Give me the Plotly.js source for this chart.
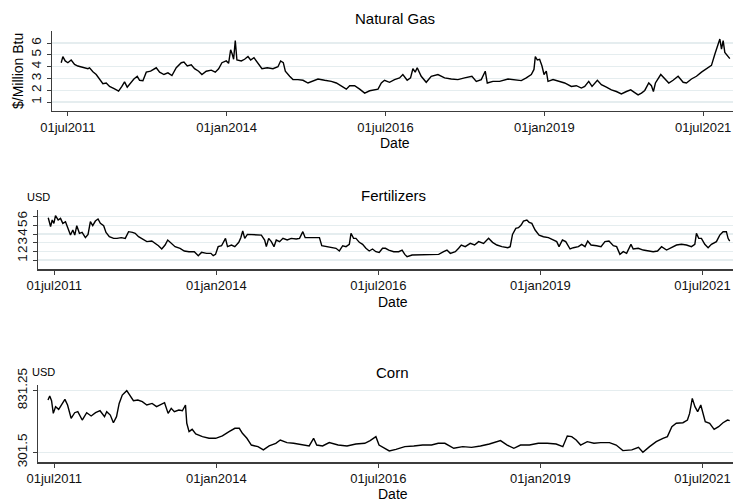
<!DOCTYPE html>
<html>
<head>
<meta charset="utf-8">
<script src="https://cdn.plot.ly/plotly-3.0.1.min.js"></script>
<style>html,body{margin:0;padding:0;background:#fff;}#chart{width:733px;height:502px;}</style>
</head>
<body>
<div id="chart"></div>
<script>
// ---- Data (x = decimal year) ----
var gasYears = [2011.395,2011.421,2011.458,2011.500,2011.552,2011.605,2011.657,2011.736,2011.815,2011.841,2011.894,2011.946,2011.999,2012.051,2012.104,2012.156,2012.235,2012.298,2012.350,2012.392,2012.434,2012.487,2012.539,2012.592,2012.629,2012.681,2012.734,2012.802,2012.891,2012.944,2013.012,2013.075,2013.138,2013.206,2013.285,2013.327,2013.379,2013.442,2013.494,2013.558,2013.610,2013.678,2013.757,2013.820,2013.873,2013.925,2013.993,2014.030,2014.062,2014.088,2014.109,2014.135,2014.161,2014.230,2014.282,2014.335,2014.377,2014.429,2014.492,2014.555,2014.639,2014.728,2014.807,2014.849,2014.891,2014.923,2014.991,2015.043,2015.122,2015.201,2015.280,2015.358,2015.437,2015.542,2015.647,2015.726,2015.804,2015.883,2015.936,2016.014,2016.093,2016.172,2016.251,2016.382,2016.434,
2016.484,2016.563,2016.642,2016.721,2016.773,2016.841,2016.894,2016.931,2016.967,2016.999,2017.062,2017.141,2017.220,2017.325,2017.430,2017.535,2017.640,2017.745,2017.860,2017.929,2018.007,2018.070,2018.102,2018.191,2018.296,2018.428,2018.559,2018.638,2018.716,2018.795,2018.837,2018.858,2018.890,2018.926,2018.963,2018.995,2019.031,2019.058,2019.137,2019.215,2019.320,2019.425,2019.504,2019.583,2019.636,2019.699,2019.751,2019.835,2019.898,2019.977,2020.056,2020.134,2020.213,2020.292,2020.360,2020.423,2020.476,2020.529,2020.581,2020.644,2020.686,2020.717,2020.749,2020.833,2020.896,2020.959,2021.027,2021.106,2021.185,2021.237,2021.316,2021.395,2021.474,2021.552,2021.631,2021.684,2021.710,2021.763,2021.789,2021.815,2021.841,2021.883,2021.920];
var gasValues = [4.33,4.85,4.48,4.33,4.56,4.19,4.05,3.96,3.82,3.90,3.56,3.33,2.95,2.55,2.61,2.32,2.12,1.92,2.32,2.70,2.26,2.61,2.95,3.18,2.84,2.81,3.53,3.61,3.90,3.53,3.33,3.47,3.24,3.90,4.33,4.39,4.05,4.16,3.82,3.61,3.33,3.61,3.70,3.53,3.82,4.33,4.48,4.28,5.43,5.05,4.62,6.20,4.56,4.48,4.62,4.85,4.56,4.76,4.33,3.82,3.90,3.82,3.99,4.48,4.33,3.61,3.18,2.90,2.90,2.84,2.61,2.75,2.95,2.84,2.75,2.61,2.32,2.09,2.38,2.38,2.09,1.75,1.95,2.09,2.61,
2.84,2.67,2.90,3.04,3.33,2.84,3.04,3.82,3.53,3.90,3.18,2.67,3.18,3.33,3.04,2.95,2.90,3.04,3.18,2.75,2.90,3.61,2.61,2.75,2.75,2.95,2.90,2.81,3.04,3.33,3.76,4.85,4.56,4.62,4.05,3.33,3.61,2.75,2.90,2.75,2.61,2.32,2.38,2.18,2.32,2.75,2.32,2.84,2.47,2.26,2.03,1.89,1.69,1.89,2.03,1.80,1.60,1.75,1.98,2.61,2.38,1.89,2.61,3.33,2.95,2.61,2.84,3.18,2.67,2.61,2.95,3.18,3.53,3.82,4.10,5.05,5.48,6.34,5.48,6.20,5.20,4.97,4.68];

var fertYears = [2011.408,2011.444,2011.469,2011.495,2011.520,2011.561,2011.597,2011.633,2011.674,2011.705,2011.751,2011.787,2011.817,2011.848,2011.889,2011.930,2011.981,2012.022,2012.058,2012.094,2012.135,2012.176,2012.212,2012.263,2012.299,2012.350,2012.417,2012.468,2012.534,2012.596,2012.647,2012.708,2012.749,2012.801,2012.852,2012.929,2013.005,2013.057,2013.108,2013.159,2013.210,2013.251,2013.302,2013.364,2013.441,2013.507,2013.579,2013.661,2013.722,2013.773,2013.850,2013.917,2013.953,2013.988,2014.029,2014.081,2014.142,2014.173,2014.234,2014.286,2014.347,2014.378,2014.408,2014.439,2014.480,2014.541,2014.618,2014.695,2014.746,2014.772,2014.808,2014.849,2014.890,2014.925,2014.977,2015.028,2015.094,2015.156,2015.233,2015.284,2015.335,2015.371,2015.438,2015.514,2015.591,2015.627,2015.693,2015.770,2015.847,2015.898,2015.950,2016.001,2016.052,2016.078,2016.118,2016.154,2016.206,2016.257,2016.308,2016.359,2016.410,2016.462,2016.513,2016.564,
2016.609,2016.660,2016.737,2016.814,2016.866,2016.907,2016.943,2017.020,2017.122,2017.225,2017.327,2017.430,2017.507,2017.558,2017.610,2017.687,2017.738,2017.779,2017.840,2017.917,2017.984,2018.046,2018.123,2018.200,2018.261,2018.328,2018.405,2018.497,2018.533,2018.569,2018.620,2018.661,2018.702,2018.738,2018.790,2018.826,2018.867,2018.918,2018.979,2019.046,2019.123,2019.200,2019.251,2019.287,2019.339,2019.390,2019.457,2019.508,2019.585,2019.636,2019.688,2019.729,2019.780,2019.867,2019.934,2019.995,2020.057,2020.124,2020.175,2020.226,2020.278,2020.329,2020.396,2020.431,2020.508,2020.585,2020.662,2020.739,2020.806,2020.868,2020.945,2021.022,2021.099,2021.175,2021.252,2021.329,2021.381,2021.406,2021.442,2021.483,2021.535,2021.586,2021.637,2021.714,2021.766,2021.817,2021.868,2021.894,2021.919];
var fertValues = [5.88,4.85,5.62,5.23,6.12,5.62,5.81,5.23,5.42,4.85,3.88,4.46,3.88,4.96,4.08,4.19,3.58,3.96,5.42,4.96,5.50,5.73,5.23,4.96,4.19,3.69,3.50,3.50,3.58,3.50,4.27,4.19,4.08,3.69,3.50,3.12,3.19,2.92,2.65,2.27,2.73,3.31,2.92,2.54,2.35,2.04,1.96,1.96,1.50,1.88,1.77,1.77,1.50,1.65,2.54,2.65,3.50,2.54,2.73,2.54,3.04,3.58,4.35,3.50,3.96,3.96,3.96,3.88,3.31,2.54,3.50,3.12,2.54,3.31,3.12,3.50,3.31,3.50,3.42,3.50,4.27,3.58,3.58,3.58,3.58,2.65,2.54,2.42,2.35,2.04,2.65,2.54,2.81,4.08,3.50,3.50,3.04,2.81,2.35,2.04,2.27,1.96,1.88,2.35,
2.35,2.15,1.96,1.96,2.15,1.65,1.38,1.58,1.58,1.58,1.58,1.65,1.96,2.15,1.77,1.96,2.35,2.73,2.54,2.92,2.73,3.12,2.92,3.50,3.04,2.73,2.54,2.42,2.54,3.96,4.65,4.73,5.04,5.50,5.62,5.35,5.23,4.46,3.88,3.69,3.58,3.31,3.12,2.54,3.31,3.12,2.27,2.42,2.54,2.81,2.54,3.19,2.73,2.65,2.54,3.12,3.19,2.65,2.54,1.65,1.96,1.77,2.81,2.27,2.35,2.15,2.04,1.96,2.04,2.54,2.15,2.42,2.73,2.81,2.73,2.54,2.81,4.08,3.50,3.50,2.81,2.42,2.81,3.12,3.88,4.27,4.27,3.50,3.19];

var cornYears = [2011.404,2011.431,2011.459,2011.486,2011.521,2011.569,2011.610,2011.665,2011.706,2011.761,2011.816,2011.864,2011.932,2012.001,2012.070,2012.138,2012.207,2012.276,2012.310,2012.365,2012.413,2012.461,2012.502,2012.550,2012.619,2012.667,2012.722,2012.790,2012.859,2012.928,2013.010,2013.079,2013.147,2013.202,2013.257,2013.305,2013.353,2013.422,2013.477,2013.525,2013.545,2013.580,2013.628,2013.683,2013.786,2013.888,2013.991,2014.094,2014.197,2014.287,2014.355,2014.403,2014.472,2014.541,2014.643,2014.726,2014.815,2014.918,2014.987,2015.090,2015.193,2015.330,2015.433,2015.501,2015.549,2015.639,2015.742,2015.879,2016.016,2016.153,2016.291,2016.373,2016.462,2016.510,2016.600,2016.668,2016.771,2016.908,2017.046,2017.183,2017.320,2017.423,2017.526,2017.663,2017.801,2017.938,2018.075,2018.212,2018.384,2018.487,2018.590,2018.693,2018.830,2018.967,2019.105,2019.242,2019.345,2019.414,2019.482,2019.551,2019.620,2019.722,2019.825,2019.928,2020.065,2020.168,2020.271,2020.409,2020.512,2020.580,2020.683,2020.786,2020.889,2020.958,2021.027,2021.095,2021.198,2021.267,2021.301,2021.342,2021.383,2021.425,2021.473,2021.507,2021.542,2021.610,2021.679,2021.748,2021.816,2021.885,2021.919];
var cornValues = [751,785,745,636,694,671,708,757,708,594,642,651,579,642,614,642,659,608,651,622,556,608,722,794,831.25,794,745,751,737,708,722,694,717,728,636,680,651,665,659,708,551,479,499,459,436,422,422,442,479,508,508,465,422,364,350,322,356,379,407,385,379,364,356,422,364,356,385,364,356,373,379,402,436,364,336,313,327,350,356,364,364,379,379,336,350,344,356,373,402,364,336,364,364,379,379,373,350,442,436,407,364,393,379,385,385,364,316,322,344,301.5,350,393,422,436,522,551,556,579,636,765,694,651,708,636,565,551,499,522,556,579,574];

// ---- Tick labels ----
var xTickVals = [2011.5, 2014.0, 2016.5, 2019.0, 2021.5];
var xTickText = ["01jul2011", "01jan2014", "01jul2016", "01jan2019", "01jul2021"];
var gasTickVals = [1, 2, 3, 4, 5, 6];
var gasTickText = ["1", "2", "3", "4", "5", "6"];
var fertTickVals = [1, 2, 3, 4, 5, 6];
var fertTickText = ["1", "2", "3", "4", "5", "6"];
var cornTickVals = [301.5, 831.25];
var cornTickText = ["301.5", "831.25"];

// ---- Layout helpers ----
var W = 733, H = 502;
function px(x) { return x / W; }
function py(y) { return 1 - y / H; }
var FONT = "Liberation Sans, Arial, Helvetica, sans-serif";
var axisColor = "#3c3c3c";
var gridColor = "#e5edef";

function xAxis(left, yref) {
  return {
    domain: [px(left), 1], anchor: yref, range: [2011.25, 2021.97],
    tickmode: "array", tickvals: xTickVals, ticktext: xTickText,
    ticks: "outside", ticklen: 4, tickwidth: 1, tickcolor: axisColor,
    showline: true, linecolor: axisColor, linewidth: 1.2,
    showgrid: false, zeroline: false, automargin: false,
    tickfont: {family: FONT, size: 13, color: "#111"}
  };
}
function yAxis(xref, dom, range, tv, tt) {
  return {
    domain: dom, anchor: xref, range: range,
    tickmode: "array", tickvals: tv, ticktext: tt, tickangle: -90,
    ticks: "outside", ticklen: 4, tickwidth: 1, tickcolor: axisColor,
    showline: true, linecolor: axisColor, linewidth: 1.2,
    showgrid: true, gridcolor: gridColor, gridwidth: 1.2,
    zeroline: false, automargin: false,
    tickfont: {family: FONT, size: 13.5, color: "#111"}
  };
}

var lineStyle = {color: "#000", width: 1.4};
var traces = [
  {x: gasYears, y: gasValues, type: "scatter", mode: "lines", line: lineStyle, xaxis: "x", yaxis: "y"},
  {x: fertYears, y: fertValues, type: "scatter", mode: "lines", line: lineStyle, xaxis: "x2", yaxis: "y2"},
  {x: cornYears, y: cornValues, type: "scatter", mode: "lines", line: lineStyle, xaxis: "x3", yaxis: "y3"}
];

function ann(text, x, y, size, extra) {
  var a = {text: text, x: px(x), y: py(y), xref: "paper", yref: "paper",
           xanchor: "center", yanchor: "middle", showarrow: false,
           font: {family: FONT, size: size, color: "#000"}};
  if (extra) for (var k in extra) a[k] = extra[k];
  return a;
}

var layout = {
  width: W, height: H,
  margin: {l: 0, r: 0, t: 0, b: 0},
  paper_bgcolor: "#fff", plot_bgcolor: "#fff",
  showlegend: false,
  xaxis: xAxis(52, "y"),
  yaxis: yAxis("x", [py(111), py(31)], [1 - 9 / 11.8, 1 + 71 / 11.8], gasTickVals, gasTickText),
  xaxis2: xAxis(38, "y2"),
  yaxis2: yAxis("x2", [py(269.3), py(210)], [1 - 9.3 / 8.66, 1 + 50 / 8.66], fertTickVals, fertTickText),
  xaxis3: xAxis(38, "y3"),
  yaxis3: yAxis("x3", [py(462.3), py(385)], [301.5 - 10 * 8.6, 831.25 + 5.7 * 8.6], cornTickVals, cornTickText),
  annotations: [
    ann("Natural Gas", 395, 19, 15),
    ann("Date", 395, 143.5, 14),
    ann("$/Million Btu", 18, 71, 14, {textangle: -90}),
    ann("Fertilizers", 393, 195, 15),
    ann("Date", 393, 302, 14),
    ann("USD", 38, 197, 11),
    ann("Corn", 392, 372, 15),
    ann("Date", 393, 494, 14),
    ann("USD", 43, 372, 11)
  ]
};

Plotly.newPlot("chart", traces, layout, {staticPlot: true, displayModeBar: false});
</script>
</body>
</html>
